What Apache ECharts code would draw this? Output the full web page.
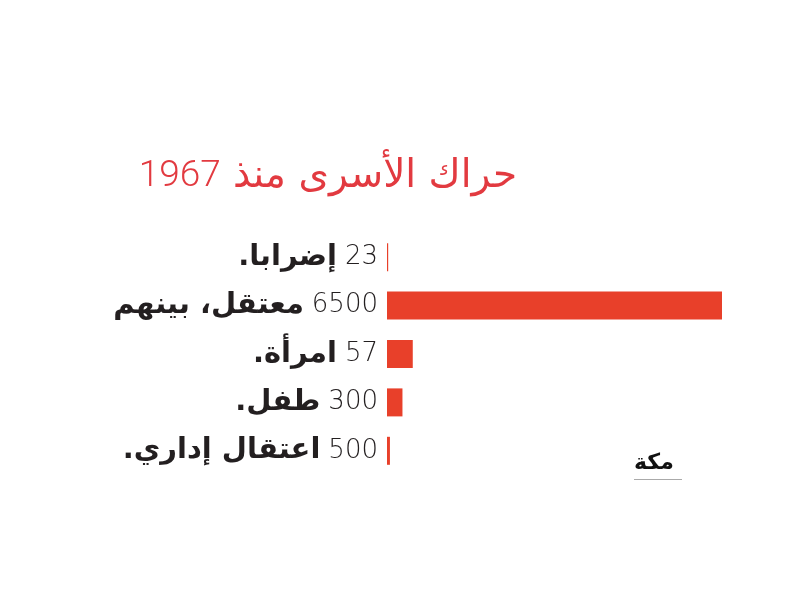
<!DOCTYPE html>
<html>
<head>
<meta charset="utf-8">
<script src="https://cdn.jsdelivr.net/npm/echarts@6/dist/echarts.min.js"></script>
<style>
  html, body { margin: 0; padding: 0; background: #fff; }
  #chart { width: 800px; height: 600px; }
</style>
</head>
<body>
<div id="chart"></div>
<script>
// رؤوس الصفوف كما في الصورة
const labelNumbers = ['23', '6500', '57', '300', '500']
const labelWords = ['إضرابا.', 'معتقل، بينهم', 'امرأة.', 'طفل.', 'اعتقال إداري.']
// أطوال الأشرطة كما تبدو في الصورة
const barValues = [23, 6500, 500, 300, 57]
const titleWords = 'حراك الأسرى منذ'
const titleYear = '1967'

const RLM = '\u200F'
const categories = labelNumbers.map((n, i) => i)

const chart = echarts.init(document.getElementById('chart'))

chart.setOption({
  animation: false,
  backgroundColor: '#ffffff',
  title: {
    text: `{n|${titleYear}}{a|${titleWords}}`,
    left: 323,
    top: 152,
    textAlign: 'center',
    textStyle: {
      rich: {
        n: { fontFamily: 'Roboto', fontWeight: 300, fontSize: 37, color: '#e23a40', padding: [0, 12, 0, 0] },
        a: { fontFamily: 'DejaVu Sans', fontWeight: 'normal', fontSize: 39, color: '#e23a40' }
      }
    }
  },
  grid: {
    left: 387,
    width: 335,
    top: 233,
    height: 242
  },
  xAxis: {
    type: 'value',
    min: 0,
    max: 6500,
    show: false
  },
  yAxis: {
    type: 'category',
    inverse: true,
    data: categories,
    axisLine: { show: false },
    axisTick: { show: false },
    axisLabel: {
      margin: 9,
      formatter: (v, i) => `{w|${labelWords[i]}${RLM}}{n|${labelNumbers[i]}}`,
      rich: {
        w: { fontFamily: 'DejaVu Sans', fontWeight: 'bold', fontSize: 29, color: '#231f20', padding: [0, 8, 0, 0] },
        n: { fontFamily: 'DejaVu Sans', fontWeight: 200, fontSize: 26, color: '#231f20' }
      }
    }
  },
  series: [{
    type: 'bar',
    data: barValues,
    barWidth: 28,
    itemStyle: { color: '#e8402a' }
  }],
  graphic: [
    {
      type: 'text',
      left: 634,
      top: 452,
      style: {
        text: 'مكة',
        font: 'bold 22px "DejaVu Sans"',
        fill: '#111'
      }
    },
    {
      type: 'rect',
      shape: { x: 634, y: 479, width: 48, height: 1 },
      style: { fill: '#aaa' }
    }
  ]
})
</script>
</body>
</html>
